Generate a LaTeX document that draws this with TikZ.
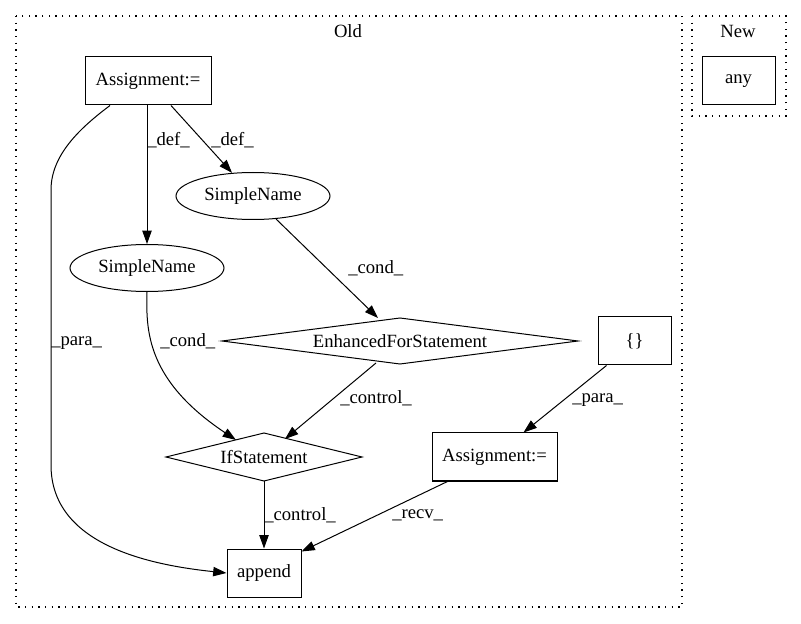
\documentclass[tikz,border=0pt]{standalone}
\usepackage{fontspec}
\setmainfont{Liberation Serif}
\usetikzlibrary{arrows.meta,shapes.geometric,calc}
\begin{document}
\begin{tikzpicture}[x=0.75pt,y=-0.75pt,
  every node/.style={font=\fontsize{14}{16}\selectfont, inner sep=0pt},
  boxnode/.style={draw, rectangle, line width=0.75pt},
  ellnode/.style={draw, ellipse, line width=0.75pt},
  cluster/.style={draw, line width=0.9pt, dash pattern=on 0.9pt off 4.1pt},
  edge/.style={draw, line width=0.75pt, -{Triangle[length=10pt,width=7pt]}},
  lbl/.style={anchor=west}
]
\useasboundingbox (0,0) rectangle (801,624);
% clusters
\draw[cluster] (16,16) rectangle (682,607);
\draw[cluster] (692,16) rectangle (786,116);
\node (oldlbl) at (348,31) {Old};
\node (newlbl) at (738,31) {New};
% nodes
\node[boxnode, minimum width=126*0.75pt, minimum height=48*0.75pt] (a1) at (148,81) {Assignment:=};
\node[boxnode, minimum width=73*0.75pt, minimum height=48*0.75pt] (any) at (738.5,81) {any};
\node[ellnode, minimum width=154*0.75pt, minimum height=47*0.75pt] (sn1) at (253,196) {SimpleName};
\node[ellnode, minimum width=154*0.75pt, minimum height=47*0.75pt] (sn2) at (147,268) {SimpleName};
\draw[line width=0.75pt] (222,341) -- (400,318) -- (578,341) -- (400,364) -- cycle;
\node (efs) at (400,341) {EnhancedForStatement};
\node[boxnode, minimum width=73*0.75pt, minimum height=48*0.75pt] (br) at (634.5,341) {\{\}};
\draw[line width=0.75pt] (166,457) -- (264,433) -- (362,457) -- (264,481) -- cycle;
\node (ifs) at (264,457) {IfStatement};
\node[boxnode, minimum width=125*0.75pt, minimum height=48*0.75pt] (a2) at (494.5,457) {Assignment:=};
\node[boxnode, minimum width=74*0.75pt, minimum height=48*0.75pt] (ap) at (264,573) {append};
% edges
\draw[edge] (a1.south -| sn2) -- (sn2.north);
\node[lbl] (l1) at (147,140) {\_def\_};
\draw[edge] ($(a1.south)+(23,0)$) -- (sn1);
\node[lbl] (l2) at (211,140) {\_def\_};
\draw[edge] ($(a1.south)+(-38,0)$) .. controls (80,128) and (51,155) .. (51,190) -- (51,465) .. controls (51,545) and (150,565) .. (ap.west);
\node[lbl] (l3) at (51,343) {\_para\_};
\draw[edge] ($(sn1.south)+(23,-1)$) -- (378,318);
\node[lbl] (l4) at (348,268) {\_cond\_};
\draw[edge] (sn2.south) .. controls (146,330) and (146,380) .. (236,440);
\node[lbl] (l5) at (160,341) {\_cond\_};
\draw[edge] (376,363) -- (285,439);
\node[lbl] (l6) at (340,398) {\_control\_};
\draw[edge] ($(br.south)+(-28,0)$) -- ($(a2.north)+(29,0)$);
\node[lbl] (l7) at (572,400) {\_para\_};
\draw[edge] ($(a2.south)+(-47,0)$) -- ($(ap.north east)+(0,3)$);
\node[lbl] (l8) at (392,515) {\_recv\_};
\draw[edge] (264,481) -- (ap.north);
\node[lbl] (l9) at (264,515) {\_control\_};
\end{tikzpicture}
\end{document}
